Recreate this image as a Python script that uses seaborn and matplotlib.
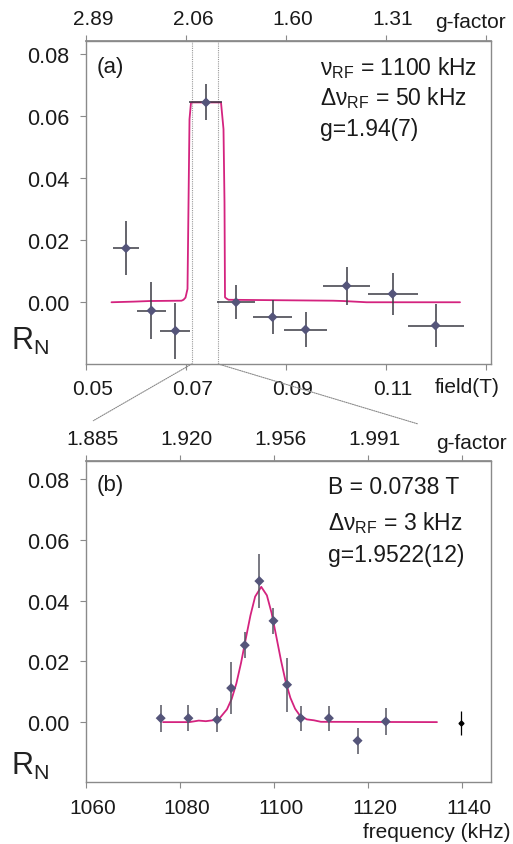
import numpy as np
import pandas as pd
import matplotlib
matplotlib.use("Agg")
import matplotlib.pyplot as plt
from matplotlib.patches import ConnectionPatch
from matplotlib.transforms import ScaledTranslation
import seaborn as sns

# ---- panel (a): field scan ----
field_T = [0.0580, 0.0631, 0.0679, 0.0740, 0.0800, 0.0873, 0.0939, 0.1021, 0.1113, 0.1199]
field_err = [0.00267, 0.0029, 0.0030, 0.0033, 0.0038, 0.0038, 0.0043, 0.0047, 0.0050, 0.0056]
rn_a = [0.0174, -0.0027, -0.0092, 0.0644, 0.0000, -0.0048, -0.0088, 0.0053, 0.0027, -0.0075]
rn_a_err = [0.0087, 0.0093, 0.0090, 0.0058, 0.0055, 0.0055, 0.0056, 0.0061, 0.0068, 0.0068]

fit_a_x = [0.0551, 0.0595, 0.0628, 0.0691, 0.0695, 0.0699, 0.0703, 0.0707, 0.0710, 0.0770,
           0.0775, 0.0777, 0.0778, 0.0781, 0.0785, 0.0994, 0.1014, 0.1061, 0.1248]
fit_a_y = [0.0, 0.0002, 0.0004, 0.0005, 0.0008, 0.0015, 0.0043, 0.0590, 0.0644, 0.0644,
           0.0558, 0.0322, 0.0016, 0.0012, 0.0008, 0.0005, 0.0004, 0.0, 0.0]

# ---- panel (b): frequency scan ----
freq_kHz = [1075.9, 1081.8, 1087.9, 1090.9, 1093.8, 1096.9, 1099.9, 1102.8, 1105.7, 1111.7, 1117.8, 1123.8]
rn_b = [0.0013, 0.0013, 0.0008, 0.0112, 0.0253, 0.0464, 0.0333, 0.0123, 0.0013, 0.0013, -0.0061, 0.0002]
rn_b_err = [0.0044, 0.0042, 0.0040, 0.0086, 0.0043, 0.0088, 0.0043, 0.0089, 0.0041, 0.0041, 0.0043, 0.0046]
ref_freq = [1139.8]
ref_rn = [-0.0003]
ref_err = [0.0039]

fit_b_x = [1076.4, 1082.0, 1084.0, 1085.5, 1087.0, 1088.5, 1090.0, 1091.0, 1092.0, 1093.0, 1094.0,
           1095.0, 1096.0, 1097.3, 1098.5, 1099.5, 1100.5, 1101.5, 1102.5, 1103.5, 1104.5,
           1105.5, 1107.0, 1108.5, 1110.0, 1134.7]
fit_b_y = [0.0, 0.0, 0.0005, 0.0003, 0.0006, 0.0014, 0.0042, 0.0076, 0.0127, 0.0195, 0.0274,
           0.0351, 0.0413, 0.0445, 0.0417, 0.0359, 0.0282, 0.0203, 0.0133, 0.0080, 0.0044,
           0.0022, 0.0009, 0.0006, 0.0001, 0.0]

# ticks / labels
y_ticks = [0.00, 0.02, 0.04, 0.06, 0.08]
a_ticks = [0.05, 0.07, 0.09, 0.11, 0.13]
a_bottom_labels = ["0.05", "0.07", "0.09", "0.11", ""]
a_top_labels = ["2.89", "2.06", "1.60", "1.31", ""]
b_ticks = [1060, 1080, 1100, 1120, 1140]
b_bottom_labels = ["1060", "1080", "1100", "1120", "1140"]
b_top_labels = ["1.885", "1.920", "1.956", "1.991", ""]
window_T = [0.07114, 0.07646]

text_a = [r"$\mathregular{\nu_{RF}}$ = 1100 kHz", r"$\mathregular{\Delta\nu_{RF}}$ = 50 kHz", "g=1.94(7)"]
text_b = ["B = 0.0738 T", r"$\mathregular{\Delta\nu_{RF}}$ = 3 kHz", "g=1.9522(12)"]

sns.set_theme(style="white")
FONT = ["Liberation Sans", "DejaVu Sans"]
plt.rcParams["font.family"] = FONT
plt.rcParams["text.color"] = "#1a1a1a"
plt.rcParams["xtick.color"] = "#1a1a1a"
plt.rcParams["ytick.color"] = "#1a1a1a"

MAGENTA = "#d4237f"
MARK = "#55557a"
BAR = "#3a3a44"
GRAY = "#8a8a8a"

fig = plt.figure(figsize=(5.13, 8.45), dpi=100)
ax_a = fig.add_axes([86 / 513, 1 - 365 / 845, 405 / 513, 323 / 845])
ax_b = fig.add_axes([86 / 513, 1 - 783.3 / 845, 405 / 513, 321.6 / 845])

shift = ScaledTranslation(7 / 100, 0, fig.dpi_scale_trans)


def style_axes(ax, xticks, bottom_labels, top_labels):
    for s in ax.spines.values():
        s.set_color(GRAY)
        s.set_linewidth(1.0)
    ax.set_yticks(y_ticks)
    ax.set_yticklabels([f"{v:.2f}" for v in y_ticks], fontsize=15.5)
    ax.set_xticks(xticks)
    ax.set_xticklabels(bottom_labels, fontsize=15)
    ax.tick_params(axis="y", direction="out", length=4, width=0.8, color=GRAY, pad=8, left=True)
    ax.tick_params(axis="x", direction="out", length=4, width=0.8, color=GRAY, pad=7, bottom=True)
    top = ax.secondary_xaxis("top")
    top.set_xticks(xticks)
    top.set_xticklabels(top_labels, fontsize=15)
    top.tick_params(direction="out", length=4, width=0.8, color=GRAY, pad=5)
    top.spines["top"].set_color(GRAY)
    ax.set_xlabel("")
    ax.set_ylabel("")
    for lab in list(ax.get_xticklabels()) + list(top.get_xticklabels()):
        lab.set_transform(lab.get_transform() + shift)


# panel (a)
for xv in window_T:
    ax_a.axvline(xv, color="#9a9a9a", lw=0.8, ls=(0, (1, 1)), zorder=1)
sns.lineplot(x=fit_a_x, y=fit_a_y, ax=ax_a, color=MAGENTA, lw=1.3, sort=False, estimator=None, zorder=2)
ax_a.errorbar(field_T, rn_a, xerr=field_err, yerr=rn_a_err, fmt="none", ecolor=BAR, elinewidth=1.1, zorder=3)
sns.scatterplot(x=field_T, y=rn_a, ax=ax_a, marker="D", s=26, color=MARK, edgecolor="none", zorder=4)
ax_a.set_xlim(0.05, 0.131)
ax_a.set_ylim(-0.0199, 0.0842)
style_axes(ax_a, a_ticks, a_bottom_labels, a_top_labels)

# panel (b)
sns.lineplot(x=fit_b_x, y=fit_b_y, ax=ax_b, color=MAGENTA, lw=1.3, sort=False, estimator=None, zorder=2)
ax_b.errorbar(freq_kHz, rn_b, yerr=rn_b_err, fmt="none", ecolor="#555560", elinewidth=1.1, zorder=3)
sns.scatterplot(x=freq_kHz, y=rn_b, ax=ax_b, marker="D", s=26, color=MARK, edgecolor="none", zorder=4)
ax_b.errorbar(ref_freq, ref_rn, yerr=ref_err, fmt="D", ms=2.5, color="black", elinewidth=0.9, zorder=4)
ax_b.set_xlim(1060, 1146.2)
ax_b.set_ylim(-0.0198, 0.086)
style_axes(ax_b, b_ticks, b_bottom_labels, b_top_labels)

# axis titles drawn as text
ax_a.text(0.942, -0.070, "field(T)", transform=ax_a.transAxes, ha="center", va="center", fontsize=15)
ax_a.text(0.948, 1.060, "g-factor", transform=ax_a.transAxes, ha="center", va="center", fontsize=15)
ax_b.text(0.952, 1.057, "g-factor", transform=ax_b.transAxes, ha="center", va="center", fontsize=15)
ax_b.text(1.047, -0.1545, "frequency (kHz)", transform=ax_b.transAxes, ha="right", va="center", fontsize=15)

for ax, base in ((ax_a, 0.046), (ax_b, 0.026)):
    ax.text(-0.185, base, r"$\mathregular{R_N}$", transform=ax.transAxes, ha="left", va="baseline",
            fontsize=22, color="#222222")

ax_a.text(0.027, 0.92, "(a)", transform=ax_a.transAxes, ha="left", va="center", fontsize=16)
ax_b.text(0.027, 0.927, "(b)", transform=ax_b.transAxes, ha="left", va="center", fontsize=16)

for txt, yy in zip(text_a, [0.9195, 0.8266, 0.7276]):
    ax_a.text(0.578, yy, txt, transform=ax_a.transAxes, ha="left", va="center", fontsize=16.5)
for txt, yy in zip(text_b, [0.921, 0.809, 0.707]):
    ax_b.text(0.598, yy, txt, transform=ax_b.transAxes, ha="left", va="center", fontsize=16.5)

# zoom connector lines from panel (a) window to panel (b)
for xv, xb, yb in ((window_T[0], 0.018, 1.1244), (window_T[1], 0.8205, 1.114)):
    con = ConnectionPatch(xyA=(xv, -0.0199), coordsA=ax_a.transData,
                          xyB=(xb, yb), coordsB=ax_b.transAxes,
                          color="#8a8a8a", lw=0.8, ls=(0, (1, 1)))
    fig.add_artist(con)

fig.savefig("out.png", dpi=100)
